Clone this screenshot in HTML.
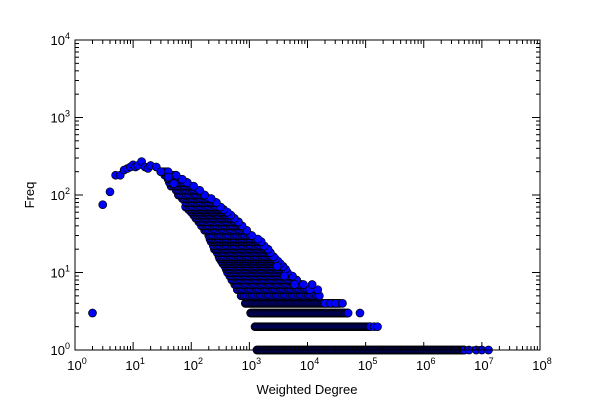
<!DOCTYPE html>
<html><head><meta charset="utf-8"><style>
body{margin:0;background:#fff;width:600px;height:400px;overflow:hidden}
text{font-family:"Liberation Sans",sans-serif;fill:#000}
</style></head><body>
<svg id="chart" width="600" height="400" xmlns="http://www.w3.org/2000/svg">
<rect x="0" y="0" width="600" height="400" fill="#fff"/>
<g id="marks"></g>
<g id="axes"></g>
<text x="307" y="394" text-anchor="middle" font-size="13">Weighted Degree</text>
<text transform="translate(34,195) rotate(-90)" text-anchor="middle" font-size="13">Freq</text>
</svg>
<script>
// dense rows: frequency, min degree, max degree
const bandFreq = [1,2,3,4,5,6,7,8,9,10,11,12,13,14,15,16,18,20,22,25,27,30,35,40,45,50,55,60,65,70,80,90,100,115,130,145,160,180,200];
const bandMin  = [1350,1250,1050,850,720,620,560,500,460,420,400,380,350,330,310,300,280,250,240,220,210,200,170,150,135,120,110,100,90,80,80,70,60,55,45,42,40,35,30];
const bandMax  = [5e6,1.2e5,5e4,3.6e4,1.6e4,1.1e4,8500,6500,5500,4500,4200,3800,3400,3100,2800,2600,2300,2100,1800,1600,1400,1100,900,750,650,550,480,420,360,320,270,220,170,140,110,85,70,55,40];
// individual points
const ptDeg  = [2,3,4,5,6,7,8,9,10,11,12,14,16,18,20,25,30,40,50,8e4,1.4e5,1.6e5,2e4,2.5e4,3e4,4e4,1.5e4,1.2e4,6e6,8e6,1e7,1.3e7,3e3,4e3,6e3];
const ptFreq = [3,75,110,180,180,210,220,230,245,230,240,270,230,220,240,230,200,170,140,3,2,2,4,4,4,4,6,7,1,1,1,1,12,9,7];
const xTicks = [0,1,2,3,4,5,6,7,8];
const yTicks = [0,1,2,3,4];

const L=75,R=540,T=40,B=350;
const X=d=>L+(R-L)*Math.log10(d)/8;
const Y=f=>B-(B-T)*Math.log10(f)/4;
const NS='http://www.w3.org/2000/svg';
const marks=document.getElementById('marks');
function dot(cx,cy){
  const c=document.createElementNS(NS,'circle');
  c.setAttribute('cx',cx);c.setAttribute('cy',cy);c.setAttribute('r',4);
  c.setAttribute('fill','#0000ff');c.setAttribute('stroke','#000');c.setAttribute('stroke-width','0.7');
  
  
  marks.appendChild(c);
}
for(let i=0;i<bandFreq.length;i++){
  const x0=X(bandMin[i]),x1=X(bandMax[i]),y=Y(bandFreq[i]);
  const step=bandFreq[i]<=4?1:1.6;
  for(let x=x0;x<=x1;x+=step) dot(x,y);
  dot(x1,y);
}
for(let i=0;i<ptDeg.length;i++) dot(X(ptDeg[i]),Y(ptFreq[i]));

const ax=document.getElementById('axes');
function line(x1,y1,x2,y2){
  const l=document.createElementNS(NS,'line');
  l.setAttribute('x1',x1);l.setAttribute('y1',y1);l.setAttribute('x2',x2);l.setAttribute('y2',y2);
  l.setAttribute('stroke','#000');l.setAttribute('stroke-width','1');
  
  
  ax.appendChild(l);
}
function label(x,y,e,anchor,name){
  const t=document.createElementNS(NS,'text');
  t.setAttribute('x',x);t.setAttribute('y',y);t.setAttribute('text-anchor',anchor);t.setAttribute('font-size','13');
  t.innerHTML='10<tspan font-size="9" dy="-6">'+e+'</tspan>';
  
  
  ax.appendChild(t);
}
const fr=document.createElementNS(NS,'rect');
fr.setAttribute('x',L);fr.setAttribute('y',T);fr.setAttribute('width',R-L);fr.setAttribute('height',B-T);
fr.setAttribute('fill','none');fr.setAttribute('stroke','#000');


ax.appendChild(fr);
xTicks.forEach(e=>{
  const x=X(Math.pow(10,e));
  line(x,B,x,B-8);line(x,T,x,T+8);
  label(x+2,B+20,e,'middle','x-tick-label');
  if(e<8)for(let m=2;m<10;m++){const xm=X(m*Math.pow(10,e));line(xm,B,xm,B-4);line(xm,T,xm,T+4);}
});
yTicks.forEach(e=>{
  const y=Y(Math.pow(10,e));
  line(L,y,L+8,y);line(R,y,R-8,y);
  label(L-5,y+5,e,'end','y-tick-label');
  if(e<4)for(let m=2;m<10;m++){const ym=Y(m*Math.pow(10,e));line(L,ym,L+4,ym);line(R,ym,R-4,ym);}
});
</script>
</body></html>
